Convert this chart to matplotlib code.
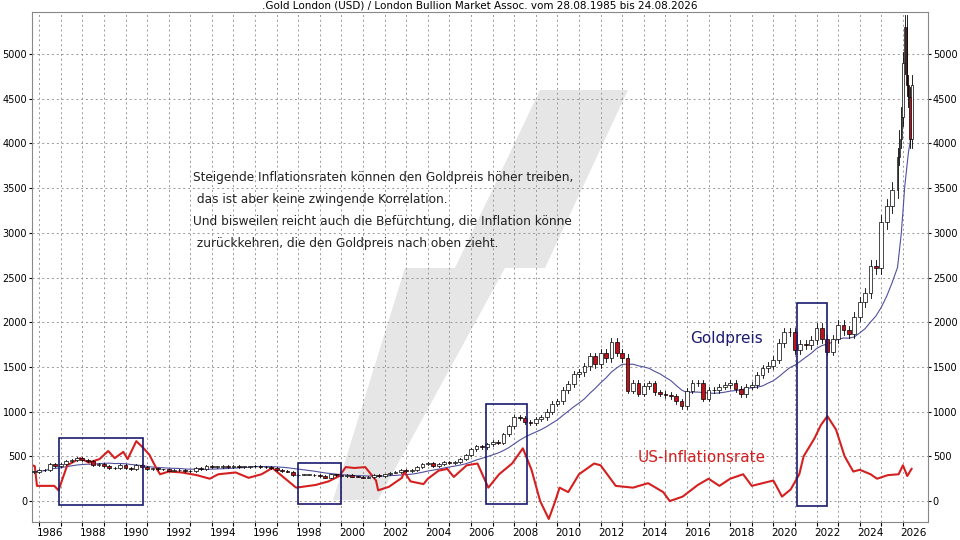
import numpy as np
import matplotlib
matplotlib.use("Agg")
import matplotlib.pyplot as plt
from matplotlib.patches import Rectangle, Polygon

# Gold closes (quarterly, then monthly at the end)
gold_dates = list(np.arange(1985.75, 2025.75, 0.25)) + [2025.75, 2025.83, 2025.92, 2026.0, 2026.08, 2026.17, 2026.25, 2026.33, 2026.42]
gold_close = [327,
    345, 345, 420, 390,  410, 450, 460, 485,  455, 450, 400, 410,  390, 370, 365, 400,
    370, 355, 400, 385,  355, 365, 355, 355,  340, 345, 350, 333,  335, 375, 355, 390,
    385, 385, 395, 383,  390, 385, 385, 387,  395, 383, 380, 370,  350, 335, 330, 290,
    295, 295, 295, 290,  280, 262, 300, 290,  278, 290, 273, 272,  260, 270, 290, 278,
    300, 318, 325, 345,  335, 345, 385, 415,  425, 395, 415, 438,  430, 435, 470, 515,
    580, 615, 600, 635,  665, 650, 745, 835,  935, 930, 880, 870,  915, 935, 1000, 1090,
    1115, 1245, 1305, 1420,  1440, 1505, 1620, 1530,  1660, 1600, 1775, 1660,  1600, 1235, 1325, 1200,
    1290, 1315, 1215, 1200,  1185, 1170, 1115, 1060,  1235, 1320, 1320, 1145,  1245, 1240, 1280, 1300,
    1325, 1250, 1195, 1280,  1295, 1410, 1485, 1515,  1580, 1770, 1890, 1890,  1690, 1760, 1740, 1800,
    1940, 1810, 1670, 1810,  1970, 1910, 1870, 2060,  2230, 2330, 2630, 2610,  3120, 3300, 3480,
    3850, 4050, 4300, 4900, 5300, 4650, 4520, 4050, 4650]

infl_dates = [1985.6, 1985.7, 1985.8, 1985.9, 1986.7, 1986.9, 1987.3, 1987.9, 1988.3, 1988.8, 1989.2, 1989.5,
              1989.9, 1990.1, 1990.5, 1990.8, 1991.1, 1991.4, 1991.6, 1992.0, 1992.6, 1993.3, 1993.9, 1994.3,
              1995.1, 1995.7, 1996.3, 1996.8, 1997.2, 1997.9, 1998.8, 1999.4, 1999.9, 2000.2, 2000.6, 2001.1,
              2001.6, 2001.7, 2002.2, 2002.8, 2002.9, 2003.2, 2003.8, 2004.0, 2004.5, 2004.9, 2005.2, 2005.8,
              2006.3, 2006.8, 2007.3, 2007.9, 2008.4, 2008.8, 2009.2, 2009.6, 2009.9, 2010.1, 2010.5, 2011.0,
              2011.7, 2012.0, 2012.7, 2013.5, 2014.2, 2014.9, 2015.2, 2015.8, 2016.5, 2017.0, 2017.5, 2018.0,
              2018.6, 2019.0, 2019.5, 2020.0, 2020.4, 2020.8, 2021.2, 2021.4, 2021.9, 2022.2, 2022.5, 2022.9,
              2023.3, 2023.7, 2024.0, 2024.5, 2024.8, 2025.3, 2025.8, 2026.0, 2026.2, 2026.4]
infl_vals = [320, 400, 390, 170, 170, 120, 400, 480, 430, 470, 560, 480,
             550, 470, 670, 600, 520, 380, 300, 330, 320, 290, 250, 300,
             320, 260, 300, 370, 290, 150, 180, 220, 280, 380, 370, 380,
             230, 120, 160, 260, 330, 220, 190, 250, 340, 360, 270, 400,
             420, 150, 300, 420, 590, 350, 0, -200, 0, 150, 100, 300,
             420, 400, 170, 150, 200, 100, 0, 50, 180, 250, 170, 250,
             300, 170, 200, 230, 50, 130, 300, 500, 700, 850, 950, 800,
             500, 330, 350, 300, 250, 290, 300, 400, 280, 360]

boxes = [(1986.9, -40, 1990.8, 710), (1998.0, -30, 2000.0, 430),
         (2006.7, -30, 2008.6, 1080), (2021.1, -50, 2022.5, 2210)]

fig = plt.figure(figsize=(9.6, 5.4), dpi=100)
ax = fig.add_axes([32/960, 18/540, 896/960, 510/540])

def fp(x, y):
    return (x/960, 1 - y/540)
for poly in ([(333, 500), (378, 500), (505, 268), (405, 268)],
             [(455, 268), (545, 268), (628, 90), (540, 90)]):
    ax.add_patch(Polygon([fp(*p) for p in poly], closed=True, transform=fig.transFigure,
                         facecolor="#e6e6e6", edgecolor="none", zorder=0.5, clip_on=False))

gd = np.array(gold_dates); gc = np.array(gold_close, dtype=float)
opens = np.r_[gc[0], gc[:-1]]
sp = np.r_[np.diff(gd), np.diff(gd)[-1]]
for i in range(len(gd)):
    o, c = opens[i], gc[i]
    hi, lo = max(o, c)*1.025, min(o, c)*0.975
    w = sp[i]*0.7
    ax.plot([gd[i], gd[i]], [lo, hi], color="black", lw=0.6, zorder=3)
    up = c >= o
    ax.add_patch(Rectangle((gd[i]-w/2, min(o, c)), w, max(abs(c-o), 5),
                           facecolor="white" if up else "#c0101a", edgecolor="black", lw=0.5, zorder=4))

ma = np.array([gc[max(0, i-11):i+1].mean() for i in range(len(gc))])
ax.plot(gd, ma, color="#5050a0", lw=0.8, zorder=2)
ax.plot(infl_dates, infl_vals, color="#d42020", lw=1.5, zorder=2)
for x0, y0, x1, y1 in boxes:
    ax.add_patch(Rectangle((x0, y0), x1-x0, y1-y0, fill=False, edgecolor="#1a1a6e", lw=1.2, zorder=5))

ax.set_xlim(1985.67, 2027.16)
ax.set_ylim(-234, 5469)
ax.set_yticks(range(0, 5001, 500))
ax.set_xticks(range(1986, 2027, 1))
ax.set_xticklabels([""]*41)
for y in range(1986, 2027, 2):
    ax.text(y + 0.5, -0.012, str(y), transform=ax.get_xaxis_transform(), ha="center", va="top", fontsize=7.5)
ax.tick_params(axis="y", which="both", labelleft=True, labelright=True, left=True, right=True,
               labelsize=7, pad=1, length=2.5)
ax.tick_params(axis="x", length=3)
ax.grid(True, color="#999999", ls=(0, (2, 3)), lw=0.7)
for s in ax.spines.values():
    s.set_color("#888888")

fig.text(0.5, 1 - 6/540, ".Gold London (USD) / London Bullion Market Assoc. vom 28.08.1985 bis 24.08.2026",
         ha="center", va="center", fontsize=7.5)
for txt, y in [("Steigende Inflationsraten können den Goldpreis höher treiben,", 178),
               (" das ist aber keine zwingende Korrelation.", 199),
               ("Und bisweilen reicht auch die Befürchtung, die Inflation könne", 222),
               (" zurückkehren, die den Goldpreis nach oben zieht.", 244)]:
    fig.text(193/960, 1 - y/540, txt, ha="left", va="center", fontsize=8.7, color="#222222")
fig.text(690/960, 1 - 339/540, "Goldpreis", fontsize=11, color="#1a1a6e", va="center")
fig.text(638/960, 1 - 457/540, "US-Inflationsrate", fontsize=11, color="#d42020", va="center")

fig.savefig("out.png", dpi=100)
